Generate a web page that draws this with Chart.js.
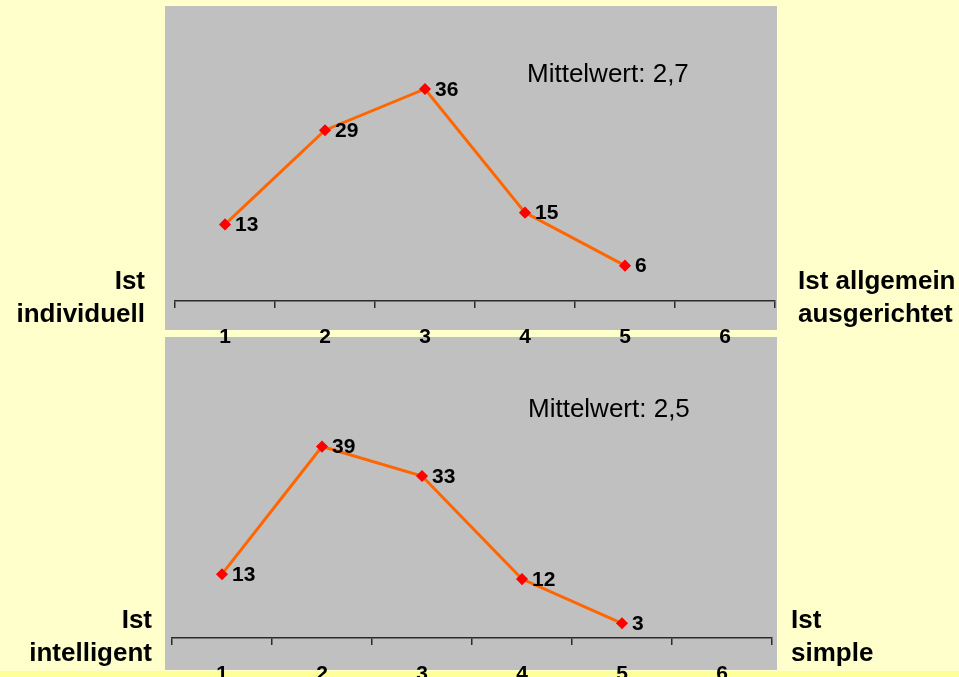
<!DOCTYPE html>
<html lang="de">
<head>
<meta charset="utf-8">
<title>Bewertung: individuell / intelligent</title>
<script src="https://cdn.jsdelivr.net/npm/chart.js@4/dist/chart.umd.min.js"></script>
<style>
  html, body { margin: 0; padding: 0; }
  body {
    width: 959px; height: 677px; overflow: hidden; position: relative;
    background: #FFFFCC;
    font-family: "Liberation Sans", Arial, sans-serif;
  }
  .panel { position: absolute; background: #C0C0C0; left: 165px; width: 612px; }
  #panelTop { top: 6px; height: 324px; }
  #panelBottom { top: 337px; height: 333px; }
  #footStrip { position: absolute; left: 0; top: 671px; width: 959px; height: 6px; background: #FFFF99; }
  canvas { position: absolute; left: 0; top: 0; }
  #wrapTop { position: absolute; left: 0; top: 0; width: 959px; height: 346px; z-index: 3; }
  #wrapBottom { position: absolute; left: 0; top: 337px; width: 959px; height: 346px; z-index: 2; }
  .side { position: absolute; font-weight: bold; font-size: 26px; line-height: 33px; color: #000; white-space: nowrap; z-index: 4; }
  .left { text-align: right; }
  .mean { position: absolute; font-size: 26px; color: #000; white-space: nowrap; z-index: 4; }
</style>
</head>
<body>
<div id="panelTop" class="panel"></div>
<div id="panelBottom" class="panel"></div>
<div id="footStrip"></div>

<div id="wrapTop"><canvas id="chartTop" width="959" height="346"></canvas></div>
<div id="wrapBottom"><canvas id="chartBottom" width="959" height="346"></canvas></div>

<div class="side left" style="right:814px; top:264px;">Ist<br>individuell</div>
<div class="side" style="left:798px; top:264px;">Ist allgemein<br>ausgerichtet</div>
<div class="side left" style="right:807px; top:603px;">Ist<br>intelligent</div>
<div class="side" style="left:791px; top:603px;">Ist<br>simple</div>

<div class="mean" style="left:527px; top:58px;">Mittelwert: 2,7</div>
<div class="mean" style="left:528px; top:393px;">Mittelwert: 2,5</div>

<script>
// Scale points 1..6
const categories = ['1', '2', '3', '4', '5', '6'];
// Percentages per scale point (point 6 has no answers shown)
const individuellValues = [13, 29, 36, 15, 6, null];
const intelligentValues = [13, 39, 33, 12, 3, null];

const FONT = '"Liberation Sans", Arial, sans-serif';

// Writes each point's value to the right of its marker
const valueLabels = {
  id: 'valueLabels',
  afterDatasetsDraw(chart) {
    const ctx = chart.ctx;
    const meta = chart.getDatasetMeta(0);
    const data = chart.data.datasets[0].data;
    ctx.save();
    ctx.font = 'bold 21px ' + FONT;
    ctx.fillStyle = '#000';
    ctx.textAlign = 'left';
    ctx.textBaseline = 'middle';
    meta.data.forEach((pt, i) => {
      if (data[i] == null) return;
      ctx.fillText(String(data[i]), pt.x + 10, pt.y + 1);
    });
    ctx.restore();
  }
};

function makeChart(id, values, yMax, pad) {
  return new Chart(document.getElementById(id), {
    type: 'line',
    data: {
      labels: categories,
      datasets: [{
        data: values,
        borderColor: '#FF6600',
        borderWidth: 3,
        pointStyle: 'rectRot',
        pointRadius: 5,
        pointBorderWidth: 1.5,
        pointBackgroundColor: '#FF0000',
        pointBorderColor: '#FF0000',
        tension: 0,
        spanGaps: false
      }]
    },
    options: {
      responsive: false,
      animation: false,
      events: [],
      layout: { padding: pad },
      plugins: { legend: { display: false }, tooltip: { enabled: false } },
      scales: {
        x: {
          type: 'category',
          offset: true,
          afterFit(scale) { scale.height = 45; },
          border: { display: true, color: '#2a2a2a', width: 1.5 },
          grid: {
            offset: true,
            drawOnChartArea: false,
            drawTicks: true,
            tickLength: 7,
            color: '#2a2a2a',
            lineWidth: 1.5
          },
          ticks: {
            color: '#000',
            padding: 17,
            maxRotation: 0,
            font: { family: FONT, size: 21, weight: 'bold' }
          }
        },
        y: {
          display: false,
          min: 0,
          max: yMax
        }
      }
    },
    plugins: [valueLabels]
  });
}

makeChart('chartTop', individuellValues, 50, { left: 175, right: 184, top: 1, bottom: 0 });
makeChart('chartBottom', intelligentValues, 60, { left: 172, right: 187, top: 0, bottom: 0 });
</script>
</body>
</html>
